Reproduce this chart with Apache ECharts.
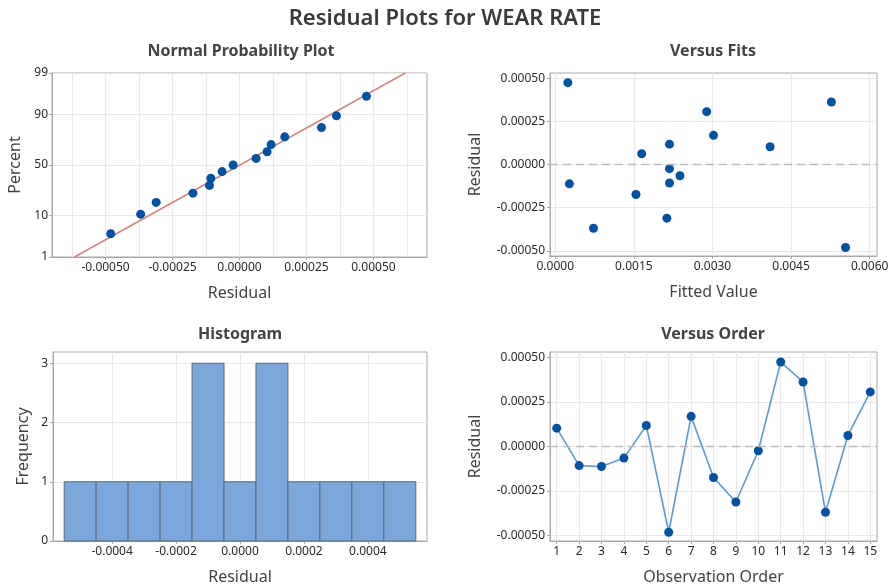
<!DOCTYPE html>
<html>
<head>
<meta charset="utf-8">
<script src="https://cdn.jsdelivr.net/npm/echarts@6/dist/echarts.min.js"></script>
<style>html,body{margin:0;padding:0;background:#fff;}#c{width:895px;height:587px;}</style>
</head>
<body>
<div id="c"></div>
<script>
// ---- data ----
const observationOrder = [1,2,3,4,5,6,7,8,9,10,11,12,13,14,15];
const residuals = [0.000103,-0.000107,-0.000112,-0.000065,0.000118,-0.000481,0.000169,-0.000174,-0.000311,-0.000024,0.000474,0.000362,-0.000369,0.000062,0.000306];
const fittedValues = [0.00410,0.00218,0.00027,0.00238,0.00218,0.00554,0.00302,0.00154,0.00213,0.00218,0.00024,0.00527,0.00073,0.00165,0.00289];
const probPercent = [4.1,10.7,17.2,23.8,30.3,36.9,43.4,50.0,56.6,63.1,69.7,76.2,82.8,89.3,95.9];
const fitLineResidual = [-0.000616, 0.000619];
const fitLinePercent = [1, 99];
const binEdges = [-0.00055,-0.00045,-0.00035,-0.00025,-0.00015,-0.00005,0.00005,0.00015,0.00025,0.00035,0.00045,0.00055];
const binCounts = [1,1,1,1,3,1,3,1,1,1,1];
const percentTicks = [1,10,50,90,99];
const probResidTicks = [-0.0005,-0.00025,0,0.00025,0.0005];
const probResidGrid = [-0.000625,-0.0005,-0.000375,-0.00025,-0.000125,0,0.000125,0.00025,0.000375,0.0005,0.000625];
const fitTicks = [0,0.0015,0.003,0.0045,0.006];
const residTicks = [-0.0005,-0.00025,0,0.00025,0.0005];
const histTicks = [-0.0004,-0.0002,0,0.0002,0.0004];
const freqTicks = [0,1,2,3];

// inverse standard normal (probability scale transform)
function norminv(p){
  const a=[-3.969683028665376e+01,2.209460984245205e+02,-2.759285104469687e+02,1.383577518672690e+02,-3.066479806614716e+01,2.506628277459239e+00];
  const b=[-5.447609879822406e+01,1.615858368580409e+02,-1.556989798598866e+02,6.680131188771972e+01,-1.328068155288572e+01];
  const c=[-7.784894002430293e-03,-3.223964580411365e-01,-2.400758277161838e+00,-2.549732539343734e+00,4.374664141464968e+00,2.938163982698783e+00];
  const d=[7.784695709041462e-03,3.224671290700398e-01,2.445134137142996e+00,3.754408661907416e+00];
  const pl=0.02425, ph=1-pl; let q,r;
  if(p<pl){q=Math.sqrt(-2*Math.log(p));return (((((c[0]*q+c[1])*q+c[2])*q+c[3])*q+c[4])*q+c[5])/((((d[0]*q+d[1])*q+d[2])*q+d[3])*q+1);}
  if(p>ph){q=Math.sqrt(-2*Math.log(1-p));return -(((((c[0]*q+c[1])*q+c[2])*q+c[3])*q+c[4])*q+c[5])/((((d[0]*q+d[1])*q+d[2])*q+d[3])*q+1);}
  q=p-0.5;r=q*q;return (((((a[0]*r+a[1])*r+a[2])*r+a[3])*r+a[4])*r+a[5])*q/(((((b[0]*r+b[1])*r+b[2])*r+b[3])*r+b[4])*r+1);
}
const z = pc => norminv(pc/100);

const sortedResiduals = residuals.slice().sort((x,y)=>x-y);
const probData = sortedResiduals.map((r,i)=>[r, z(probPercent[i])]);
const fitLineData = fitLineResidual.map((r,i)=>[r, z(fitLinePercent[i])]);
const fitsData = fittedValues.map((f,i)=>[f, residuals[i]]);
const orderData = observationOrder.map((o,i)=>[o, residuals[i]]);
const histData = binCounts.map((n,i)=>[binEdges[i], binEdges[i+1], n]);

const FONT = '"Noto Sans", "Open Sans", sans-serif';
const TXT = '#2a2a2a';
const GRIDC = '#e9e9e9';
const AXC = '#a8a8a8';
const DOT = '#0452a6';

function valAxis(o){
  const base = {
    type:'value', gridIndex:o.grid, min:o.min, max:o.max, scale:false,
    name:o.name, nameLocation:'middle', nameGap:o.nameGap,
    nameTextStyle:{color:'#444', fontSize:16, fontFamily:FONT},
    axisLine:{show:true, onZero:false, lineStyle:{color:AXC, width:1}},
    axisTick:{show:true, length:3, lineStyle:{color:AXC}, customValues:o.ticks},
    axisLabel:{color:TXT, fontSize:12, fontFamily:FONT, margin:o.margin||5, customValues:o.ticks, formatter:o.fmt, showMinLabel:true, showMaxLabel:true},
    splitLine:{show:o.split!==false, lineStyle:{color:GRIDC, width:1}},
  };
  return base;
}

const option = {
  backgroundColor:'#fff',
  animation:false,
  textStyle:{fontFamily:FONT},
  grid:[
    {left:52, top:73, width:375, height:184, show:true, borderColor:AXC, borderWidth:1},
    {left:550, top:73, width:327, height:183, show:true, borderColor:AXC, borderWidth:1},
    {left:53, top:352, width:374, height:189, show:true, borderColor:AXC, borderWidth:1},
    {left:550, top:352, width:327, height:189, show:true, borderColor:AXC, borderWidth:1}
  ],
  xAxis:[
    valAxis({grid:0, min:-0.0007, max:0.0007, name:'Residual', nameGap:28, ticks:probResidTicks, fmt:v=>v.toFixed(5), split:false}),
    valAxis({grid:1, min:-0.0001, max:0.00614, name:'Fitted Value', nameGap:28, ticks:fitTicks, fmt:v=>v.toFixed(4)}),
    valAxis({grid:2, min:-0.000585, max:0.000585, name:'Residual', nameGap:28, ticks:histTicks, fmt:v=>v.toFixed(4)}),
    valAxis({grid:3, min:0.7, max:15.3, name:'Observation Order', nameGap:28, ticks:observationOrder, fmt:v=>String(Math.round(v))}),
    // extra grid lines for the probability plot
    {type:'value', gridIndex:0, min:-0.0007, max:0.0007, position:'bottom',
      axisLine:{show:false}, axisLabel:{show:false}, axisTick:{show:false, customValues:probResidGrid},
      splitLine:{show:true, lineStyle:{color:GRIDC, width:1}}}
  ],
  yAxis:[
    valAxis({grid:0, min:z(1), max:z(99), name:'Percent', nameGap:29, margin:4, ticks:percentTicks.map(z), fmt:(v)=>{let best=percentTicks[0];percentTicks.forEach(p=>{if(Math.abs(z(p)-v)<Math.abs(z(best)-v))best=p;});return String(best);}}),
    valAxis({grid:1, min:-0.00053, max:0.00053, name:'Residual', nameGap:67, ticks:residTicks, fmt:v=>v.toFixed(5)}),
    valAxis({grid:2, min:0, max:3.19, name:'Frequency', nameGap:22, margin:5, ticks:freqTicks, fmt:v=>String(Math.round(v))}),
    valAxis({grid:3, min:-0.00053, max:0.00053, name:'Residual', nameGap:67, ticks:residTicks, fmt:v=>v.toFixed(5)})
  ],
  graphic:[
    {type:'text', x:445, y:19, style:{text:'Residual Plots for WEAR RATE', fontSize:22, fontWeight:600, fontFamily:FONT, fill:'#3a3a3a', align:'center', verticalAlign:'middle'}},
    {type:'text', x:241, y:51, style:{text:'Normal Probability Plot', fontSize:16, fontWeight:'bold', fontFamily:FONT, fill:'#444', align:'center', verticalAlign:'middle'}},
    {type:'text', x:713, y:51, style:{text:'Versus Fits', fontSize:16, fontWeight:'bold', fontFamily:FONT, fill:'#444', align:'center', verticalAlign:'middle'}},
    {type:'text', x:240, y:334, style:{text:'Histogram', fontSize:16, fontWeight:'bold', fontFamily:FONT, fill:'#444', align:'center', verticalAlign:'middle'}},
    {type:'text', x:713, y:334, style:{text:'Versus Order', fontSize:16, fontWeight:'bold', fontFamily:FONT, fill:'#444', align:'center', verticalAlign:'middle'}}
  ],
  series:[
    {type:'line', xAxisIndex:0, yAxisIndex:0, data:fitLineData, symbol:'none', lineStyle:{color:'#d4857c', width:1.6}, silent:true, z:2},
    {type:'scatter', xAxisIndex:0, yAxisIndex:0, data:probData, symbol:'circle', symbolSize:9, itemStyle:{color:DOT, opacity:1}, z:3},
    {type:'scatter', xAxisIndex:1, yAxisIndex:1, data:fitsData, symbol:'circle', symbolSize:9, itemStyle:{color:DOT, opacity:1}, z:3,
      markLine:{silent:true, symbol:'none', label:{show:false}, lineStyle:{color:'#bdbdbd', type:[8,5], width:1.4}, data:[{yAxis:0}]}},
    {type:'custom', xAxisIndex:2, yAxisIndex:2, data:histData, encode:{x:[0,1], y:2},
      renderItem:function(params, api){
        const p0 = api.coord([api.value(0), api.value(2)]);
        const p1 = api.coord([api.value(1), 0]);
        return {type:'rect', shape:{x:p0[0], y:p0[1], width:p1[0]-p0[0], height:p1[1]-p0[1]},
          style:{fill:'#7ca7da', stroke:'#5c6773', lineWidth:1}};
      }, z:3},
    {type:'line', xAxisIndex:3, yAxisIndex:3, data:orderData, symbol:'circle', symbolSize:9, showSymbol:true,
      lineStyle:{color:'#5b9bd5', width:1.6}, itemStyle:{color:DOT}, z:3,
      markLine:{silent:true, symbol:'none', label:{show:false}, lineStyle:{color:'#bdbdbd', type:[8,5], width:1.4}, data:[{yAxis:0}]}}
  ]
};
echarts.init(document.getElementById('c')).setOption(option);
</script>
</body>
</html>
